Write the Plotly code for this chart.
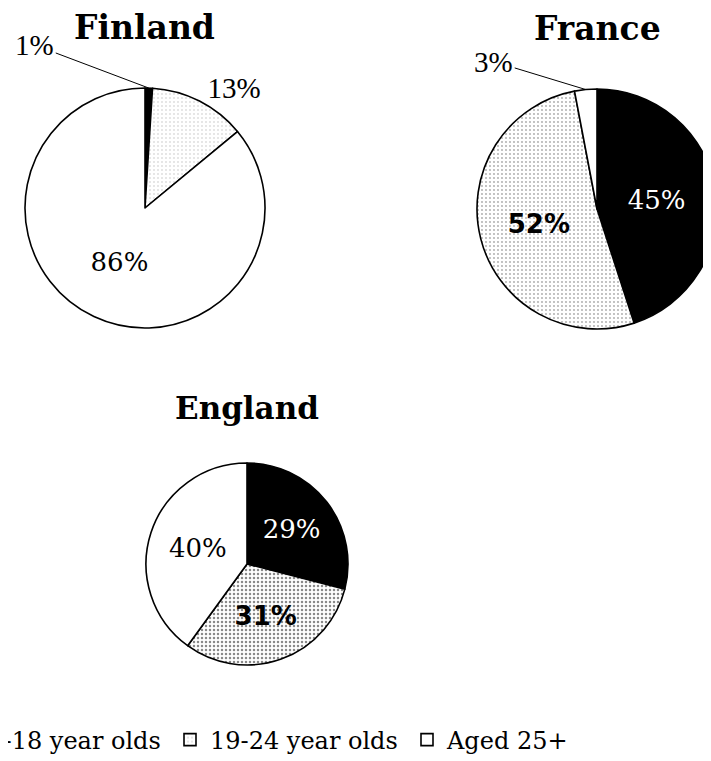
import math
import plotly.graph_objects as go

# ---- data ----
labels = ["16-18 year olds", "19-24 year olds", "Aged 25+"]
countries = ["Finland", "France", "England"]
finland = [1, 13, 86]
france = [45, 52, 3]
england = [29, 31, 40]

W, H = 711, 761
OFF = 8          # page body margin offset of the figure in the browser
MB = 45          # bottom margin (legend lives there)
PH = H - MB

SERIF = "DejaVu Serif"
TIMES = "Liberation Serif"
SANS = "DejaVu Sans"

colors = ["black", "white", "white"]


def X(sx):
    return (sx - OFF) / W


def Y(sy):
    return 1 - (sy - OFF) / PH


def dom(cx, cy, r):
    return dict(x=[max(0.0, X(cx - r)), min(1.0, X(cx + r))],
                y=[max(0.0, Y(cy + r)), min(1.0, Y(cy - r))])


geo = {
    "Finland": (145, 208, 120),
    "France": (597, 209, 120),
    "England": (247, 564, 101),
}

fig = go.Figure()


def add_pie(name, vals, textpos, fams, cols, sizes, bold, pat, show):
    cx, cy, r = geo[name]
    txt = [(f"<b>{v}%</b>" if b else f"{v}%") for v, b in zip(vals, bold)]
    fig.add_trace(go.Pie(
        labels=labels, values=vals, sort=False, direction="clockwise",
        rotation=0, domain=dom(cx, cy, r),
        marker=dict(colors=colors,
                    pattern=dict(shape=["", ".", ""], fgcolor=pat[0],
                                 bgcolor="white", size=4, solidity=pat[1]),
                    line=dict(color="black", width=1.6)),
        text=txt, textinfo="text",
        textposition=textpos,
        textfont=dict(family=fams, color=cols, size=sizes),
        insidetextorientation="horizontal",
        showlegend=show, hoverinfo="label+percent", name=name,
    ))


add_pie("Finland", finland, ["none", "outside", "inside"],
        [TIMES, TIMES, SERIF], ["black", "black", "black"], [29, 29, 26],
        [False, False, False], ("#b8b8b8", 0.08), True)
add_pie("France", france, ["inside", "inside", "none"],
        [SERIF, SANS, TIMES], ["white", "black", "black"], [26, 26, 29],
        [False, True, False], ("#a8a8a8", 0.16), False)
add_pie("England", england, ["inside", "inside", "inside"],
        [SERIF, SANS, SERIF], ["white", "black", "black"], [26, 26, 26],
        [False, True, False], ("#8a8a8a", 0.3), False)


def slice_tip(name, vals, idx):
    cx, cy, r = geo[name]
    tot = sum(vals)
    frac = (sum(vals[:idx]) + vals[idx] / 2) / tot
    th = 2 * math.pi * frac
    return X(cx + r * math.sin(th)), Y(cy - r * math.cos(th))


annotations = []
# small slice labels with leader lines
for name, vals, idx, ax, ay in [("Finland", finland, 0, -114, -43),
                                 ("France", france, 2, -92, -28)]:
    x, y = slice_tip(name, vals, idx)
    annotations.append(dict(
        x=x, y=y, xref="paper", yref="paper", text=f"{vals[idx]}%",
        showarrow=True, arrowhead=0, arrowwidth=1, arrowcolor="black",
        ax=ax, ay=ay, standoff=0,
        font=dict(family=TIMES, size=29, color="black")))

# titles
for name, (tx, ty), fs in zip(countries, [(144, 27), (597, 28), (247, 408)],
                              [33, 33, 31]):
    annotations.append(dict(
        x=X(tx), y=Y(ty), xref="paper", yref="paper", text=f"<b>{name}</b>",
        showarrow=False, xanchor="center", yanchor="middle",
        font=dict(family=SERIF, size=fs, color="black")))

fig.update_layout(
    width=W, height=H,
    margin=dict(l=0, r=0, t=0, b=MB, autoexpand=False),
    paper_bgcolor="white", plot_bgcolor="white",
    annotations=annotations,
    legend=dict(orientation="h", x=X(-67), xanchor="left",
                y=Y(740), yanchor="middle",
                font=dict(family=SERIF, size=24, color="black"),
                entrywidth=192, entrywidthmode="pixels",
                traceorder="normal"),
)

fig.write_html("out.html")
